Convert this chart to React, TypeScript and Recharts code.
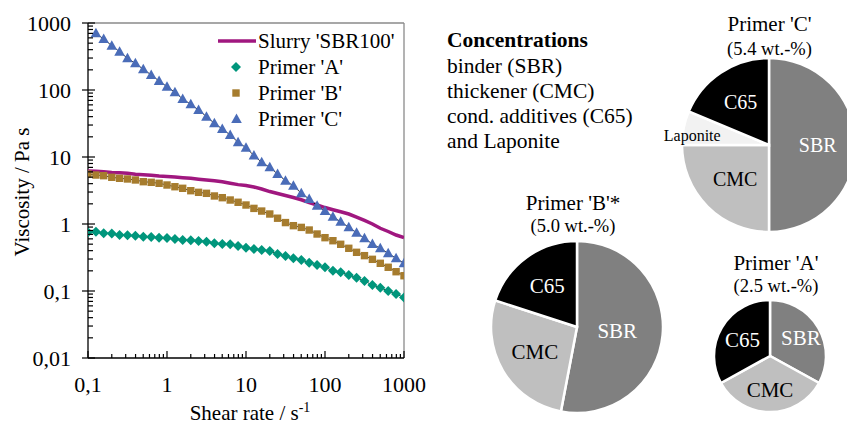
import React from "react";
import { ScatterChart, Scatter, XAxis, YAxis, ReferenceLine, PieChart, Pie, Cell } from "recharts";

const FONT = "Liberation Serif";
const T = { fontFamily: FONT };

// shear rate grid, 10 points per decade
const shearRate = [
  0.1, 0.126, 0.158, 0.2, 0.251, 0.316, 0.398, 0.501, 0.631, 0.794,
  1, 1.26, 1.58, 2, 2.51, 3.16, 3.98, 5.01, 6.31, 7.94,
  10, 12.6, 15.8, 20, 25.1, 31.6, 39.8, 50.1, 63.1, 79.4,
  100, 126, 158, 200, 251, 316, 398, 501, 631, 794, 1000,
];
// Primer 'C' starts one step later
const shearRateC = shearRate.slice(1);

const slurrySBR100 = [
  6.18, 6.12, 6.0, 5.88, 5.82, 5.7, 5.52, 5.45, 5.35, 5.2,
  5.12, 5.02, 4.9, 4.8, 4.66, 4.54, 4.42, 4.26, 4.05, 3.87,
  3.76, 3.56, 3.33, 3.05, 2.85, 2.66, 2.49, 2.3, 2.09, 1.92,
  1.76, 1.63, 1.52, 1.41, 1.27, 1.13, 1.0, 0.863, 0.773, 0.685, 0.629,
];
const primerA = [
  0.751, 0.768, 0.726, 0.72, 0.686, 0.68, 0.669, 0.646, 0.64, 0.625,
  0.62, 0.597, 0.577, 0.57, 0.557, 0.544, 0.515, 0.503, 0.498, 0.47,
  0.443, 0.424, 0.409, 0.395, 0.357, 0.333, 0.308, 0.29, 0.265, 0.244,
  0.226, 0.201, 0.19, 0.173, 0.158, 0.141, 0.123, 0.112, 0.1, 0.09, 0.08,
];
const primerB = [
  5.57, 5.38, 5.26, 4.98, 4.81, 4.7, 4.54, 4.28, 4.19, 4.05,
  3.82, 3.6, 3.41, 3.14, 2.97, 2.87, 2.62, 2.47, 2.28, 2.11,
  1.92, 1.71, 1.56, 1.41, 1.22, 1.05, 0.944, 0.89, 0.813, 0.709,
  0.625, 0.563, 0.498, 0.434, 0.378, 0.337, 0.297, 0.259, 0.226, 0.194, 0.169,
];
const primerC = [
  702, 577, 458, 373, 297, 250, 204, 168, 136, 112,
  92.4, 73.4, 61.2, 50.3, 40, 31.8, 26.2, 21.3, 16.6, 13.8,
  10.5, 8.33, 7.02, 5.57, 4.43, 3.73, 2.87, 2.36, 1.88, 1.56,
  1.28, 1.08, 0.893, 0.742, 0.612, 0.503, 0.434, 0.365, 0.308, 0.259,
];

const xDecades = [0.1, 1, 10, 100, 1000];
const yDecades = [0.01, 0.1, 1, 10, 100, 1000];
const minorSteps = [2, 3, 4, 5, 6, 7, 8, 9];

const withMinors = (decades: number[]) => {
  const out: number[] = [];
  decades.forEach((d, i) => {
    out.push(d);
    if (i < decades.length - 1) minorSteps.forEach((m) => out.push(+(d * m).toPrecision(3)));
  });
  return out;
};
const xTicks = withMinors(xDecades);
const yTicks = withMinors(yDecades);

const pieCompC = [
  { name: "SBR", value: 50 },
  { name: "CMC", value: 25 },
  { name: "Laponite", value: 6.3 },
  { name: "C65", value: 18.7 },
];
const pieCompB = [
  { name: "SBR", value: 53 },
  { name: "CMC", value: 27 },
  { name: "C65", value: 20 },
];
const pieCompA = [
  { name: "SBR", value: 33 },
  { name: "CMC", value: 34 },
  { name: "C65", value: 33 },
];

const concentrationLines = ["binder (SBR)", "thickener (CMC)", "cond. additives (C65)", "and Laponite"];

const sliceFill: Record<string, string> = { SBR: "#808080", CMC: "#bfbfbf", Laponite: "#f2f2f2", C65: "#000000" };
const sliceText: Record<string, string> = { SBR: "#fff", CMC: "#000", Laponite: "#000", C65: "#fff" };

const COL = { slurry: "#a0177f", A: "#00967c", B: "#a67c2e", C: "#4a6cb8" };

const toPoints = (xs: number[], ys: number[]) => ys.map((y, i) => ({ x: xs[i], y }));

const isMajor = (v: number) => Math.abs(Math.log10(v) - Math.round(Math.log10(v))) < 1e-6;
const fmt = (v: number) => String(v).replace(".", ",");

function XTick(props: any) {
  const { x, y, payload } = props;
  const v = payload.value;
  const major = isMajor(v);
  return (
    <g>
      <line x1={x} x2={x} y1={y} y2={y - (major ? 7 : 4)} stroke="#000" strokeWidth={1.2} />
      {major && (
        <text x={x} y={y + 33.5} textAnchor="middle" fontSize={22} style={T} fill="#000">
          {fmt(v)}
        </text>
      )}
    </g>
  );
}

function YTick(props: any) {
  const { x, y, payload } = props;
  const v = payload.value;
  const major = isMajor(v);
  return (
    <g>
      <line x1={major ? x - 6 : x} x2={x + (major ? 7 : 5)} y1={y} y2={y} stroke="#000" strokeWidth={1.2} />
      {major && (
        <text x={x - 17} y={y + 7.5} textAnchor="end" fontSize={22} style={T} fill="#000">
          {fmt(v)}
        </text>
      )}
    </g>
  );
}

const Diamond = ({ cx, cy, fill }: any) => (
  <path d={`M${cx},${cy - 5}L${cx + 5},${cy}L${cx},${cy + 5}L${cx - 5},${cy}Z`} fill={fill} />
);
const Square = ({ cx, cy, fill }: any) => <rect x={cx - 3.7} y={cy - 3.7} width={7.4} height={7.4} fill={fill} />;
const Triangle = ({ cx, cy, fill }: any) => (
  <path d={`M${cx},${cy - 5.5}L${cx + 5.3},${cy + 4}L${cx - 5.3},${cy + 4}Z`} fill={fill} />
);
const NoMark = () => <g />;

const labelFactor: Record<string, Record<string, number>> = {
  C: { SBR: 0.56, CMC: 0.55, C65: 0.59, Laponite: 0.9 },
  B: { SBR: 0.47, CMC: 0.57, C65: 0.59 },
  A: { SBR: 0.64, CMC: 0.61, C65: 0.57 },
};
const labelShiftY: Record<string, number> = { Laponite: 6 };

const makeLabel = (key: string, fontSize: number) => (p: any) => {
  const rad = Math.PI / 180;
  const name = p.name ?? p.payload?.name;
  const r = p.outerRadius * (labelFactor[key][name] ?? 0.6);
  const x = p.cx + r * Math.cos(-p.midAngle * rad);
  const y = p.cy + r * Math.sin(-p.midAngle * rad) + (labelShiftY[name] ?? 0);
  return (
    <text
      key={name}
      x={x}
      y={y}
      textAnchor="middle"
      dominantBaseline="central"
      fontSize={name === "Laponite" ? 16 : fontSize}
      style={T}
      fill={sliceText[name]}
    >
      {name}
    </text>
  );
};

const legendRows = [
  { name: "Slurry 'SBR100'", color: COL.slurry, mark: "line" },
  { name: "Primer 'A'", color: COL.A, mark: "diamond" },
  { name: "Primer 'B'", color: COL.B, mark: "square" },
  { name: "Primer 'C'", color: COL.C, mark: "triangle" },
];

export default function App() {
  return (
    <div style={{ position: "fixed", left: 0, top: 0, width: 847, height: 424, background: "#fff", fontFamily: FONT }}>
      <div style={{ position: "absolute", left: 0, top: 0 }}>
        <ScatterChart width={440} height={424} margin={{ top: 23, right: 36, bottom: 0, left: 0 }}>
          <XAxis
            dataKey="x"
            type="number"
            scale="log"
            domain={[0.1, 1000]}
            allowDataOverflow
            ticks={xTicks}
            interval={0}
            height={66}
            tickSize={0}
            tickMargin={0}
            tickLine={false}
            axisLine={{ stroke: "#000", strokeWidth: 1.3 }}
            tick={<XTick />}
          />
          <YAxis
            dataKey="y"
            type="number"
            scale="log"
            domain={[0.01, 1000]}
            allowDataOverflow
            ticks={yTicks}
            interval={0}
            width={88}
            tickSize={0}
            tickMargin={0}
            tickLine={false}
            axisLine={{ stroke: "#000", strokeWidth: 1.3 }}
            tick={<YTick />}
          />
          <ReferenceLine y={1000} stroke="#8a8a8a" strokeWidth={1.3} />
          <ReferenceLine x={1000} stroke="#8a8a8a" strokeWidth={1.3} />
          <Scatter
            data={toPoints(shearRate, slurrySBR100)}
            line={{ stroke: COL.slurry, strokeWidth: 3.5 }}
            shape={<NoMark />}
            isAnimationActive={false}
          />
          <Scatter
            data={toPoints(shearRate, primerA)}
            fill={COL.A}
            line={{ stroke: "#000", strokeWidth: 0.8 }}
            shape={<Diamond />}
            isAnimationActive={false}
          />
          <Scatter
            data={toPoints(shearRate, primerB)}
            fill={COL.B}
            line={{ stroke: "#000", strokeWidth: 0.8 }}
            shape={<Square />}
            isAnimationActive={false}
          />
          <Scatter
            data={toPoints(shearRateC, primerC)}
            fill={COL.C}
            line={{ stroke: "#000", strokeWidth: 0.8 }}
            shape={<Triangle />}
            isAnimationActive={false}
          />
        </ScatterChart>
      </div>

      <div style={{ position: "absolute", left: 440, top: 0 }}>
        <PieChart width={407} height={424} margin={{ top: 0, right: 0, bottom: 0, left: 0 }}>
          <Pie
            data={pieCompC}
            dataKey="value"
            nameKey="name"
            cx={329}
            cy={145}
            outerRadius={87}
            startAngle={90}
            endAngle={-270}
            stroke="#fff"
            strokeWidth={2.5}
            labelLine={false}
            label={makeLabel("C", 20)}
            isAnimationActive={false}
          >
            {pieCompC.map((d) => (
              <Cell key={d.name} fill={sliceFill[d.name]} />
            ))}
          </Pie>
          <Pie
            data={pieCompB}
            dataKey="value"
            nameKey="name"
            cx={137}
            cy={327}
            outerRadius={86}
            startAngle={90}
            endAngle={-270}
            stroke="#fff"
            strokeWidth={2.5}
            labelLine={false}
            label={makeLabel("B", 21)}
            isAnimationActive={false}
          >
            {pieCompB.map((d) => (
              <Cell key={d.name} fill={sliceFill[d.name]} />
            ))}
          </Pie>
          <Pie
            data={pieCompA}
            dataKey="value"
            nameKey="name"
            cx={330}
            cy={356}
            outerRadius={56}
            startAngle={90}
            endAngle={-270}
            stroke="#fff"
            strokeWidth={2.5}
            labelLine={false}
            label={makeLabel("A", 21)}
            isAnimationActive={false}
          >
            {pieCompA.map((d) => (
              <Cell key={d.name} fill={sliceFill[d.name]} />
            ))}
          </Pie>
        </PieChart>
      </div>

      <svg width={847} height={424} style={{ position: "absolute", left: 0, top: 0, pointerEvents: "none" }}>
        {/* axis titles */}
        <text transform="translate(29,192) rotate(-90)" textAnchor="middle" fontSize={21} style={T}>
          Viscosity / Pa s
        </text>
        <text x={250} y={420} textAnchor="middle" fontSize={21} style={T}>
          Shear rate / s<tspan dy={-8} fontSize={14}>-1</tspan>
        </text>

        {/* legend */}
        {legendRows.map((r, i) => {
          const cy = 41 + i * 26;
          return (
            <g key={r.name}>
              {r.mark === "line" && <line x1={218} x2={256} y1={cy} y2={cy} stroke={r.color} strokeWidth={3.5} />}
              {r.mark === "diamond" && <Diamond cx={236} cy={cy} fill={r.color} />}
              {r.mark === "square" && <Square cx={236} cy={cy} fill={r.color} />}
              {r.mark === "triangle" && <Triangle cx={236.5} cy={cy} fill={r.color} />}
              <text x={258} y={cy + 7} fontSize={21} style={T}>
                {r.name}
              </text>
            </g>
          );
        })}

        {/* concentrations block */}
        <text x={447} y={47} fontSize={21.5} fontWeight="bold" style={T}>
          Concentrations
        </text>
        {concentrationLines.map((t, i) => (
          <text key={t} x={447} y={73 + i * 25} fontSize={21.5} style={T}>
            {t}
          </text>
        ))}

        {/* pie titles */}
        <text x={769.5} y={31} textAnchor="middle" fontSize={21} style={T}>Primer 'C'</text>
        <text x={769.5} y={55} textAnchor="middle" fontSize={18.5} style={T}>(5.4 wt.-%)</text>
        <text x={573} y={210} textAnchor="middle" fontSize={21} style={T}>Primer 'B'*</text>
        <text x={573} y={232} textAnchor="middle" fontSize={18.5} style={T}>(5.0 wt.-%)</text>
        <text x={776} y={270} textAnchor="middle" fontSize={21} style={T}>Primer 'A'</text>
        <text x={776} y={292} textAnchor="middle" fontSize={18.5} style={T}>(2.5 wt.-%)</text>
      </svg>
    </div>
  );
}
